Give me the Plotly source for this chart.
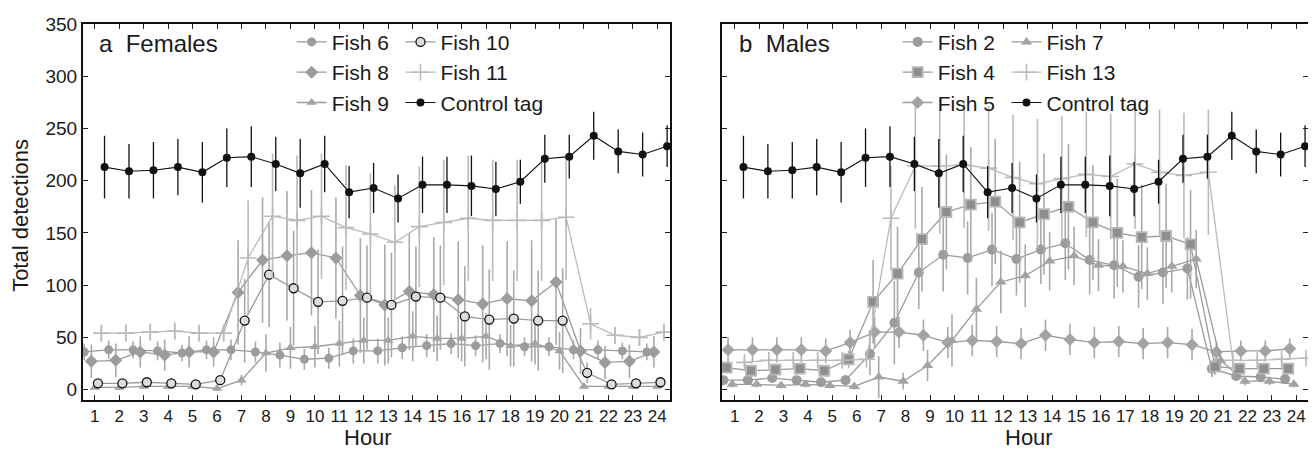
import numpy as np
import plotly.graph_objects as go

hours = list(range(1, 25))
hour_labels = [str(h) for h in hours]
y_ticks = [0, 50, 100, 150, 200, 250, 300, 350]

# ---- Panel a: Females ----
fish6 = [36, 38, 38, 37, 35, 38, 38, 36, 33, 29, 30, 37, 37, 40, 42, 44, 42, 44, 41, 41, 38, 38, 37, 36]
fish6_err = [8, 9, 8, 9, 8, 9, 10, 10, 12, 10, 10, 12, 12, 11, 11, 10, 10, 9, 9, 9, 9, 9, 8, 8]
fish8 = [27, 28, 36, 33, 36, 36, 93, 124, 128, 131, 126, 90, 81, 94, 91, 86, 82, 87, 85, 103, 37, 26, 27, 36]
fish8_err = [16, 16, 15, 15, 15, 14, 50, 60, 62, 60, 58, 55, 58, 56, 55, 56, 56, 55, 58, 60, 22, 16, 16, 15]
fish9 = [2, 2, 3, 3, 3, 1, 9, 35, 40, 41, 44, 47, 47, 51, 49, 49, 51, 42, 44, 37, 3, 3, 3, 3]
fish9_err = [2, 2, 2, 2, 2, 2, 5, 18, 20, 20, 22, 22, 22, 24, 22, 22, 22, 20, 20, 18, 2, 2, 2, 2]
fish10 = [6, 6, 7, 6, 5, 9, 66, 110, 97, 84, 85, 88, 81, 89, 88, 70, 67, 68, 66, 66, 16, 5, 6, 7]
fish10_err = [3, 3, 3, 3, 3, 4, 40, 50, 55, 50, 52, 50, 50, 48, 50, 48, 48, 46, 48, 50, 10, 3, 3, 3]
fish11 = [54, 54, 55, 56, 54, 54, 126, 166, 162, 166, 155, 149, 141, 156, 160, 164, 162, 162, 162, 165, 63, 52, 50, 55]
fish11_err = [8, 8, 8, 8, 8, 8, 55, 60, 62, 60, 60, 58, 55, 58, 60, 60, 58, 58, 58, 60, 15, 8, 8, 8]

# ---- Control tag (both panels) ----
control = [213, 209, 210, 213, 208, 222, 223, 216, 207, 216, 189, 193, 183, 196, 196, 195, 192, 199, 221, 223, 243, 228, 225, 233]
control_err = [30, 26, 27, 27, 29, 28, 29, 26, 33, 27, 25, 24, 23, 27, 27, 29, 26, 21, 23, 21, 23, 21, 21, 20]

# ---- Panel b: Males ----
fish2 = [9, 9, 11, 9, 7, 9, 34, 64, 112, 129, 126, 134, 125, 134, 140, 124, 119, 108, 112, 116, 20, 13, 12, 10]
fish2_err = [4, 4, 4, 4, 4, 5, 20, 40, 35, 35, 35, 35, 35, 33, 35, 33, 32, 30, 30, 30, 8, 5, 5, 4]
fish4 = [21, 18, 19, 20, 18, 29, 84, 111, 144, 170, 177, 180, 160, 168, 175, 160, 150, 146, 147, 139, 22, 20, 20, 20]
fish4_err = [5, 5, 5, 5, 5, 8, 40, 45, 50, 55, 55, 60, 58, 58, 60, 55, 52, 50, 50, 52, 8, 5, 5, 5]
fish5 = [38, 38, 38, 38, 37, 45, 55, 55, 52, 45, 47, 46, 44, 52, 48, 45, 46, 44, 45, 43, 36, 37, 37, 39]
fish5_err = [12, 12, 12, 12, 12, 12, 15, 15, 15, 15, 15, 15, 15, 15, 15, 15, 15, 15, 15, 15, 10, 10, 10, 10]
fish7 = [5, 5, 4, 5, 4, 3, 12, 8, 23, 47, 77, 103, 109, 123, 128, 119, 118, 111, 118, 125, 28, 8, 8, 5]
fish7_err = [3, 3, 3, 3, 3, 3, 20, 8, 15, 25, 30, 30, 30, 28, 28, 25, 25, 25, 25, 28, 8, 4, 4, 3]
fish13 = [26, 28, 28, 28, 28, 29, 164, 214, 214, 215, 212, 203, 197, 202, 206, 204, 216, 208, 205, 208, 28, 28, 29, 30]
fish13_err = [3, 3, 3, 3, 3, 3, 50, 60, 65, 60, 60, 60, 62, 60, 60, 60, 62, 60, 60, 60, 6, 3, 3, 3]

FONT = "Liberation Sans, Arial, Helvetica, sans-serif"
GRAY = "#9c9c9c"
ERRC = "#a9a9a9"
LINEC = "#9a9a9a"
LIGHT = "#bababa"

fig = go.Figure()
hx = np.array(hours, dtype=float)


def add(y, err, name, offset, xa, ya, legend, marker, linecolor=LINEC, errcolor=ERRC,
        lw=1.3, ew=1.6):
    fig.add_trace(go.Scatter(
        x=hx + offset, y=y, name=name, mode="lines+markers",
        xaxis=xa, yaxis=ya, legend=legend,
        line=dict(color=linecolor, width=lw),
        marker=marker,
        error_y=dict(type="data", array=err, visible=True, color=errcolor,
                     thickness=ew, width=0),
        cliponaxis=True,
    ))


# Panel a
add(fish6, fish6_err, "Fish 6", -0.43, "x", "y", "legend",
    dict(symbol="circle", size=9, color=GRAY, line=dict(width=0)))
add(fish8, fish8_err, "Fish 8", -0.14, "x", "y", "legend",
    dict(symbol="diamond", size=10, color=GRAY, line=dict(width=0)))
add(fish9, fish9_err, "Fish 9", 0.0, "x", "y", "legend",
    dict(symbol="triangle-up", size=9, color="#a3a3a3", line=dict(width=0)))
add(fish10, fish10_err, "Fish 10", 0.13, "x", "y", "legend2",
    dict(symbol="circle", size=9, color="#dcdcdc", line=dict(width=1.3, color="#111111")))
add(fish11, fish11_err, "Fish 11", 0.27, "x", "y", "legend2",
    dict(symbol="cross-thin-open", size=12, color=LIGHT, line=dict(width=1.6, color=LIGHT)),
    linecolor=LIGHT, errcolor=LIGHT)
add(control, control_err, "Control tag", 0.40, "x", "y", "legend2",
    dict(symbol="circle", size=8, color="#111111", line=dict(width=0)),
    linecolor="#111111", errcolor="#111111", lw=1.1, ew=1.3)

# Panel b
add(fish2, fish2_err, "Fish 2", -0.46, "x2", "y2", "legend3",
    dict(symbol="circle", size=10, color=GRAY, line=dict(width=0)))
add(fish4, fish4_err, "Fish 4", -0.33, "x2", "y2", "legend3",
    dict(symbol="square", size=10, color="#8e8e8e", line=dict(width=1.8, color="#b8b8b8")))
add(fish5, fish5_err, "Fish 5", -0.27, "x2", "y2", "legend3",
    dict(symbol="diamond", size=10, color="#a3a3a3", line=dict(width=0)))
add(fish7, fish7_err, "Fish 7", -0.10, "x2", "y2", "legend4",
    dict(symbol="triangle-up", size=10, color="#a3a3a3", line=dict(width=0)))
add(fish13, fish13_err, "Fish 13", 0.40, "x2", "y2", "legend4",
    dict(symbol="cross-thin-open", size=12, color=LIGHT, line=dict(width=1.6, color=LIGHT)),
    linecolor=LIGHT, errcolor=LIGHT)
add(control, control_err, "Control tag", 0.36, "x2", "y2", "legend4",
    dict(symbol="circle", size=8, color="#111111", line=dict(width=0)),
    linecolor="#111111", errcolor="#111111", lw=1.1, ew=1.3)

axis_common = dict(
    showline=True, linecolor="#111111", linewidth=2, mirror="ticks",
    ticks="inside", ticklen=5, tickwidth=1, tickcolor="#222222",
    showgrid=False, zeroline=False,
)

# the page body has an 8px margin: figure pixel = screen pixel - 8
OFF = 8
W, H = 1316 - OFF, 449 - OFF
L, T = 83 - OFF, 20 - OFF
R = W - (1310 - OFF)
B = H - (400 - OFF)
PW = W - L - R


def px_x(p):
    return (p - OFF - L) / PW


leg_font = dict(family=FONT, size=21, color="#1a1a1a")
leg_common = dict(orientation="v", xanchor="left", yanchor="top", bgcolor="rgba(0,0,0,0)",
                  borderwidth=0, font=leg_font, itemwidth=30, tracegroupgap=0)
leg_y = 1.006

fig.update_layout(
    width=W, height=H,
    margin=dict(l=L, r=R, t=T, b=B),
    paper_bgcolor="white", plot_bgcolor="white",
    font=dict(family=FONT, color="#1a1a1a"),
    xaxis=dict(domain=[0, px_x(671)], range=[0.52, 24.52], tickvals=hours, ticktext=hour_labels,
               tickfont=dict(size=17, family=FONT), anchor="y", **axis_common),
    yaxis=dict(domain=[0, 1], range=[-10, 350], tickvals=y_ticks,
               tickfont=dict(size=19, family=FONT), anchor="x", **axis_common),
    xaxis2=dict(domain=[px_x(723), 1], range=[0.48, 24.48], tickvals=hours, ticktext=hour_labels,
                tickfont=dict(size=17, family=FONT), anchor="y2", **axis_common),
    yaxis2=dict(domain=[0, 1], range=[-10, 350], tickvals=y_ticks, showticklabels=False,
                anchor="x2", **axis_common),
    legend=dict(x=px_x(292), y=leg_y, **leg_common),
    legend2=dict(x=px_x(401), y=leg_y, **leg_common),
    legend3=dict(x=px_x(899), y=leg_y, **leg_common),
    legend4=dict(x=px_x(1008), y=leg_y, **leg_common),
    showlegend=True,
)

ann_font = dict(family=FONT, size=24, color="#1a1a1a")
title_font = dict(family=FONT, size=22, color="#1a1a1a")
fig.add_annotation(text="a  Females", x=1.09, y=331, xref="x", yref="y", xanchor="left",
                   yanchor="middle", showarrow=False, font=ann_font)
fig.add_annotation(text="b  Males", x=1.09, y=331, xref="x2", yref="y2", xanchor="left",
                   yanchor="middle", showarrow=False, font=ann_font)
fig.add_annotation(text="Hour", x=12.19, y=-0.1, xref="x", yref="paper", xanchor="center",
                   yanchor="middle", showarrow=False, font=title_font)
fig.add_annotation(text="Hour", x=13.07, y=-0.1, xref="x2", yref="paper", xanchor="center",
                   yanchor="middle", showarrow=False, font=title_font)
fig.add_annotation(text="Total detections", x=px_x(21), y=0.49, xref="paper", yref="paper",
                   xanchor="center", yanchor="middle", textangle=-90, showarrow=False,
                   font=title_font)

fig.write_html("out.html")
